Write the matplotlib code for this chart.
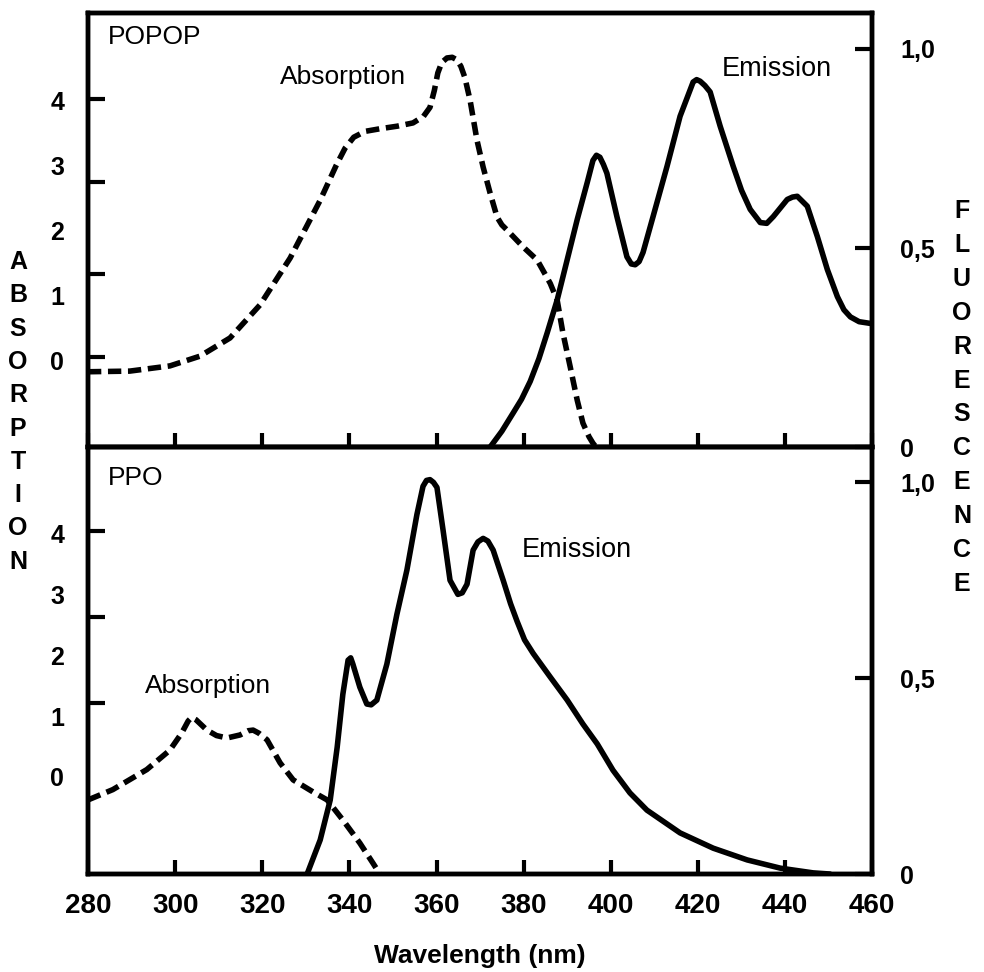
import numpy as np
import matplotlib
matplotlib.use("Agg")
import matplotlib.pyplot as plt

# POPOP (top panel) - absorption on left axis, emission on right axis
popop_abs_nm = [280.0, 289.6, 298.8, 305.7, 312.6, 319.5, 326.4, 333.3, 337.0, 339.0,
                341.0, 343.6, 347.0, 351.0, 354.6, 357.0, 358.5, 359.5, 360.3, 361.2,
                362.4, 363.6, 364.7, 365.6, 366.5, 367.7, 369.3, 370.7, 372.3, 373.9,
                375.0, 376.2, 379.9, 383.1, 386.1, 387.7, 389.0, 390.7, 392.3, 393.6,
                395.0, 395.9, 396.6]
popop_abs = [-0.18, -0.17, -0.09, 0.06, 0.34, 0.85, 1.57, 2.46, 3.00, 3.26,
             3.43, 3.52, 3.56, 3.60, 3.65, 3.75, 3.89, 4.15, 4.42, 4.58,
             4.65, 4.66, 4.62, 4.52, 4.35, 4.00, 3.38, 2.97, 2.57, 2.20,
             2.08, 2.00, 1.74, 1.54, 1.18, 0.92, 0.42, -0.11, -0.62, -0.97,
             -1.18, -1.28, -1.34]
popop_em_nm = [372.3, 375.0, 377.6, 379.5, 381.5, 383.5, 385.4, 387.7, 390.0, 392.3,
               394.6, 395.9, 396.7, 397.5, 398.3, 399.1, 401.4, 403.7, 404.7, 405.6,
               406.5, 407.4, 409.7, 412.9, 415.9, 418.9, 419.7, 420.5, 421.6, 422.8,
               425.1, 428.1, 430.0, 432.0, 434.3, 435.8, 437.3, 440.5, 441.7, 442.8,
               445.1, 447.4, 449.7, 452.0, 453.5, 455.0, 457.0, 460.0]
popop_em = [0.0, 0.04, 0.086, 0.12, 0.165, 0.222, 0.287, 0.37, 0.471, 0.572,
            0.665, 0.72, 0.733, 0.728, 0.71, 0.688, 0.579, 0.478, 0.46, 0.458,
            0.466, 0.489, 0.579, 0.705, 0.831, 0.917, 0.923, 0.919, 0.908, 0.892,
            0.806, 0.705, 0.645, 0.597, 0.564, 0.562, 0.579, 0.622, 0.628, 0.63,
            0.605, 0.529, 0.446, 0.378, 0.345, 0.327, 0.315, 0.31]

# PPO (bottom panel)
ppo_abs_nm = [280.0, 285.7, 293.5, 298.8, 301.5, 303.0, 303.8, 304.8, 307.3, 309.5,
              311.9, 314.9, 316.8, 317.9, 319.2, 321.1, 324.1, 327.1, 331.7, 334.9,
              338.5, 342.4, 345.4, 347.0]
ppo_abs = [-0.38, -0.21, 0.12, 0.44, 0.72, 0.92, 0.98, 0.94, 0.77, 0.68,
           0.64, 0.69, 0.76, 0.77, 0.72, 0.61, 0.23, -0.05, -0.25, -0.38,
           -0.71, -1.09, -1.42, -1.60]
ppo_em_nm = [330.3, 333.3, 335.6, 337.2, 338.5, 339.7, 340.3, 340.8, 342.4, 344.0,
             345.0, 346.3, 348.6, 350.9, 353.2, 355.5, 356.9, 357.7, 358.5, 359.3,
             360.1, 361.5, 363.1, 364.9, 365.9, 367.0, 368.4, 369.5, 370.7, 371.8,
             373.0, 375.3, 377.0, 378.5, 380.2, 382.2, 386.1, 390.0, 393.6, 396.9,
             400.5, 404.4, 408.3, 415.9, 423.5, 431.3, 438.9, 446.4, 450.3]
ppo_em = [0.0, 0.087, 0.189, 0.324, 0.459, 0.546, 0.552, 0.536, 0.477, 0.434,
          0.432, 0.444, 0.536, 0.663, 0.776, 0.918, 0.99, 1.005, 1.007, 1.0,
          0.987, 0.878, 0.75, 0.714, 0.718, 0.74, 0.827, 0.848, 0.857, 0.85,
          0.827, 0.75, 0.69, 0.645, 0.598, 0.563, 0.503, 0.444, 0.383, 0.332,
          0.265, 0.207, 0.163, 0.105, 0.066, 0.036, 0.015, 0.003, 0.0]

x_ticks = [280, 300, 320, 340, 360, 380, 400, 420, 440, 460]
abs_ticks = [0, 1, 2, 3, 4]
fl_ticks = [0, 0.5, 1.0]
fl_labels = ["0", "0,5", "1,0"]

num_font = ["Liberation Sans Narrow", "Liberation Sans"]
txt_font = ["Liberation Sans", "DejaVu Sans"]

fig = plt.figure(figsize=(9.84, 9.72), dpi=100)
ax_top = fig.add_axes([0.0894, 0.540, 0.797, 0.4465])
ax_bot = fig.add_axes([0.0894, 0.1008, 0.797, 0.4392])

panels = [
    (ax_top, popop_abs_nm, popop_abs, popop_em_nm, popop_em, (-1.34, 5.34),
     [0.05, 1.32, 2.74, 4.02]),
    (ax_bot, ppo_abs_nm, ppo_abs, ppo_em_nm, ppo_em, (-1.6, 5.43),
     [1.22, 2.63, 4.05]),
]

for ax, a_nm, a_val, e_nm, e_val, ylim, marks in panels:
    ax.plot(a_nm, a_val, color="black", lw=4.0, linestyle=(0, (2.4, 1.2)),
            solid_joinstyle="round")
    ax.set_xlim(280, 460)
    ax.set_ylim(*ylim)
    ax.set_xticks(x_ticks)
    ax.set_yticks(abs_ticks)
    ax.set_yticklabels([str(t) for t in abs_ticks])
    ax.set_yticks(marks, minor=True)
    ax.tick_params(axis="y", which="major", length=0, pad=17, labelsize=18)
    ax.tick_params(axis="y", which="minor", direction="in", length=12, width=3)
    ax.tick_params(axis="x", direction="in", length=10, width=3, pad=14,
                   labelsize=20)
    for lab in ax.get_yticklabels():
        lab.set_fontweight("bold")
        lab.set_family(txt_font)
    for lab in ax.get_xticklabels():
        lab.set_fontweight("bold")
        lab.set_family(num_font)
    for sp in ax.spines.values():
        sp.set_linewidth(3.2)

    ax2 = ax.twinx()
    ax2.plot(e_nm, e_val, color="black", lw=4.0, solid_joinstyle="round",
             solid_capstyle="round")
    ax2.set_ylim(0, 1.09)
    ax2.set_yticks(fl_ticks)
    ax2.set_yticklabels(fl_labels)
    ax2.tick_params(axis="y", direction="in", length=12, width=3, pad=20,
                    labelsize=18)
    for lab in ax2.get_yticklabels():
        lab.set_fontweight("bold")
        lab.set_family(txt_font)
    for sp in ax2.spines.values():
        sp.set_linewidth(3.2)
    if ax is ax_top:
        ax.tick_params(axis="x", labelbottom=False)
        ax_top_r = ax2
    else:
        ax_bot_r = ax2

ax_bot.set_xlabel("Wavelength (nm)", fontsize=19, fontweight="bold",
                  family=num_font, labelpad=18)

# annotations
ax_top_r.text(284.6, 1.03, "POPOP", fontsize=19, family=txt_font, va="center")
ax_top_r.text(338.5, 0.93, "Absorption", fontsize=19, family=txt_font,
              ha="center", va="center")
ax_top_r.text(438.0, 0.95, "Emission", fontsize=19.5, family=txt_font,
              ha="center", va="center")
ax_bot_r.text(284.6, 1.01, "PPO", fontsize=19, family=txt_font, va="center")
ax_bot_r.text(307.5, 0.48, "Absorption", fontsize=19, family=txt_font,
              ha="center", va="center")
ax_bot_r.text(392.3, 0.827, "Emission", fontsize=19.5, family=txt_font,
              ha="center", va="center")

# stacked vertical axis titles
for i, ch in enumerate("ABSORPTION"):
    fig.text(0.0183, 1 - (262 + i * 33.3) / 972, ch, fontsize=18,
             fontweight="bold", family=txt_font, ha="center", va="center")
for i, ch in enumerate("FLUORESCENCE"):
    fig.text(0.9776, 1 - (211 + i * 33.9) / 972, ch, fontsize=18,
             fontweight="bold", family=txt_font, ha="center", va="center")

fig.savefig("out.png", dpi=100)
